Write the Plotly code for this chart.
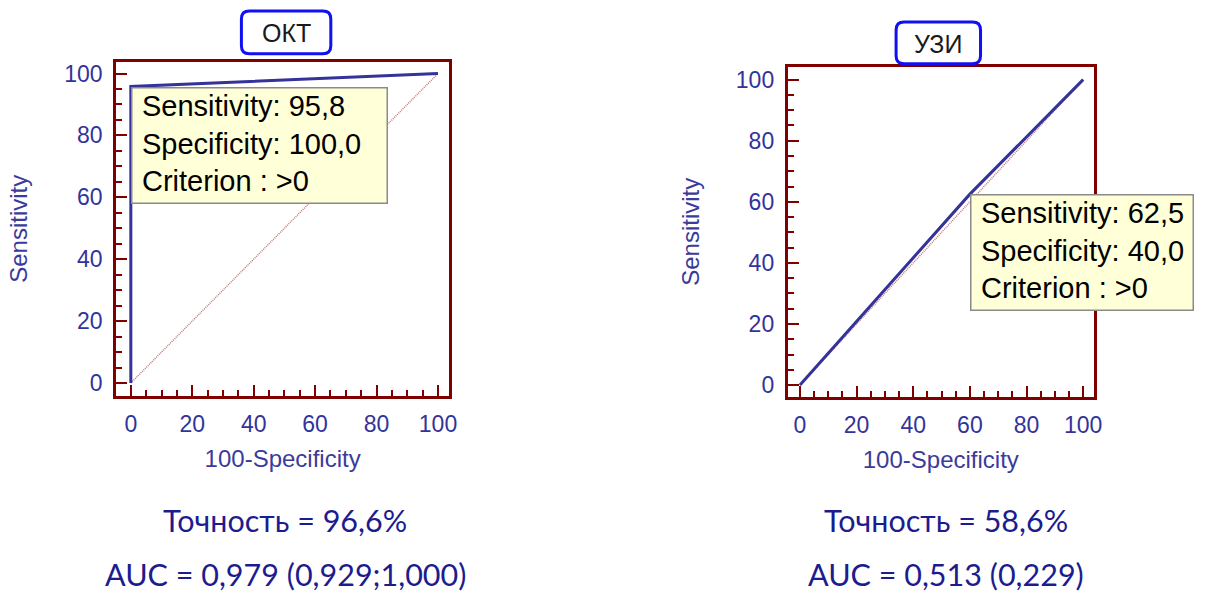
import plotly.graph_objects as go

W, H = 1221, 594

# ROC curves (100-Specificity vs Sensitivity)
okt_fpr = [0, 0, 100]
okt_tpr = [0, 95.8, 100]
uzi_fpr = [0, 60, 100]
uzi_tpr = [0, 62.5, 100]

# Chance diagonal
diag = [0, 100]

# Optimal cut-off points
okt_sens, okt_spec, okt_crit = 95.8, 100.0, ">0"
uzi_sens, uzi_spec, uzi_crit = 62.5, 40.0, ">0"

# Summary lines under each panel
okt_acc, okt_auc, okt_ci = "96,6%", "0,979", "(0,929;1,000)"
uzi_acc, uzi_auc, uzi_ci = "58,6%", "0,513", "(0,229)"

tick_vals = [0, 20, 40, 60, 80, 100]

FRAME = "#800000"
ROC = "#333399"
LABEL = "#333399"
DIAG = "#c47a7a"
TXT = "#1c1c8f"


def px_x(p):
    return p / W


def px_y(p):
    return 1 - p / H


def fmt(v):
    return f"{v:.1f}".replace(".", ",")


fig = go.Figure()

for xa, ya, fx, fy in [("x", "y", okt_fpr, okt_tpr), ("x2", "y2", uzi_fpr, uzi_tpr)]:
    fig.add_trace(go.Scatter(x=diag, y=diag, xaxis=xa, yaxis=ya, mode="lines",
                             line=dict(color=DIAG, width=1.5, dash="1px,1px"),
                             hoverinfo="skip", showlegend=False))
    fig.add_trace(go.Scatter(x=fx, y=fy, xaxis=xa, yaxis=ya, mode="lines",
                             line=dict(color=ROC, width=3), showlegend=False))


def axis_style(domain, rng, anchor, title, standoff):
    return dict(
        domain=domain, range=rng, anchor=anchor,
        showline=True, linecolor=FRAME, linewidth=3, mirror=True,
        showgrid=False, zeroline=False,
        ticks="inside", ticklen=11, tickwidth=2, tickcolor=FRAME,
        tickvals=tick_vals, ticklabelstandoff=6,
        tickfont=dict(family="Liberation Sans, Arial", size=23, color=LABEL),
        minor=dict(dtick=5, ticks="inside", ticklen=6, tickwidth=1.5,
                   tickcolor=FRAME, showgrid=False),
        title=dict(text=title, standoff=standoff,
                   font=dict(family="Liberation Sans, Arial", size=24, color="#3b3b9b")),
    )


fig.update_layout(
    width=W, height=H,
    margin=dict(l=0, r=0, t=0, b=0),
    paper_bgcolor="white", plot_bgcolor="white",
    xaxis=axis_style([px_x(117), px_x(452)], [-4.75, 103.6], "y", "100-Specificity", 14),
    yaxis=axis_style([px_y(396), px_y(61)], [-4.1, 103.8], "x", "Sensitivity", 30),
    xaxis2=axis_style([px_x(793), px_x(1101)], [-4.3, 103.75], "y2", "100-Specificity", 14),
    yaxis2=axis_style([px_y(397), px_y(66)], [-3.8, 104.2], "x2", "Sensitivity", 30),
)


def rounded_box(x0, y0, x1, y1, r=8):
    rx, ry = r / W, r / H
    a, b, c, d = px_x(x0), px_y(y0), px_x(x1), px_y(y1)
    return (f"M {a+rx},{b} L {c-rx},{b} Q {c},{b} {c},{b-ry} "
            f"L {c},{d+ry} Q {c},{d} {c-rx},{d} L {a+rx},{d} "
            f"Q {a},{d} {a},{d+ry} L {a},{b-ry} Q {a},{b} {a+rx},{b} Z")


for (x0, y0, x1, y1), name in [((243, 10, 333, 53), "ОКТ"), ((902, 21, 987, 63), "УЗИ")]:
    fig.add_shape(type="path", xref="paper", yref="paper",
                  path=rounded_box(x0, y0, x1, y1),
                  line=dict(color="#1010f0", width=3), fillcolor="white")
    fig.add_annotation(xref="paper", yref="paper", x=px_x((x0 + x1) / 2), y=px_y((y0 + y1) / 2 + 1),
                       text=name, showarrow=False, xanchor="center", yanchor="middle",
                       font=dict(family="Liberation Sans, Arial", size=25, color="#1a1a1a"))

# Cut-off info boxes anchored at the cut-off point on each curve
for xr, yr, sens, spec, crit, bw, bh in [
    ("x", "y", okt_sens, okt_spec, okt_crit, 252, 112),
    ("x2", "y2", uzi_sens, uzi_spec, uzi_crit, 219, 112),
]:
    fpr = 100 - spec
    fig.add_annotation(xref=xr, yref=yr, x=fpr, y=sens, text=" ", showarrow=False,
                       xanchor="left", yanchor="top", width=bw, height=bh,
                       bgcolor="#ffffd8", bordercolor="#8a8a8a", borderwidth=1.5, borderpad=1)
    fig.add_annotation(xref=xr, yref=yr, x=fpr, y=sens, showarrow=False,
                       xanchor="left", yanchor="top", align="left", xshift=9, yshift=-1,
                       text=(f"Sensitivity: {fmt(sens)}<br>Specificity: {fmt(spec)}"
                             f"<br>Criterion : {crit}"),
                       font=dict(family="Liberation Sans, Arial", size=29, color="black"))

# Accuracy and AUC summaries
for cx, acc, auc, ci in [(287, okt_acc, okt_auc, okt_ci), (952, uzi_acc, uzi_auc, uzi_ci)]:
    fig.add_annotation(xref="paper", yref="paper", x=px_x(cx), y=px_y(521),
                       text=f"Точность = {acc}", showarrow=False,
                       xanchor="center", yanchor="middle",
                       font=dict(family="Lato", size=30.5, color=TXT))
    fig.add_annotation(xref="paper", yref="paper", x=px_x(cx), y=px_y(575),
                       text=f"AUC = {auc} {ci}", showarrow=False,
                       xanchor="center", yanchor="middle",
                       font=dict(family="Lato", size=30.5, color=TXT))

fig.write_html("out.html")
